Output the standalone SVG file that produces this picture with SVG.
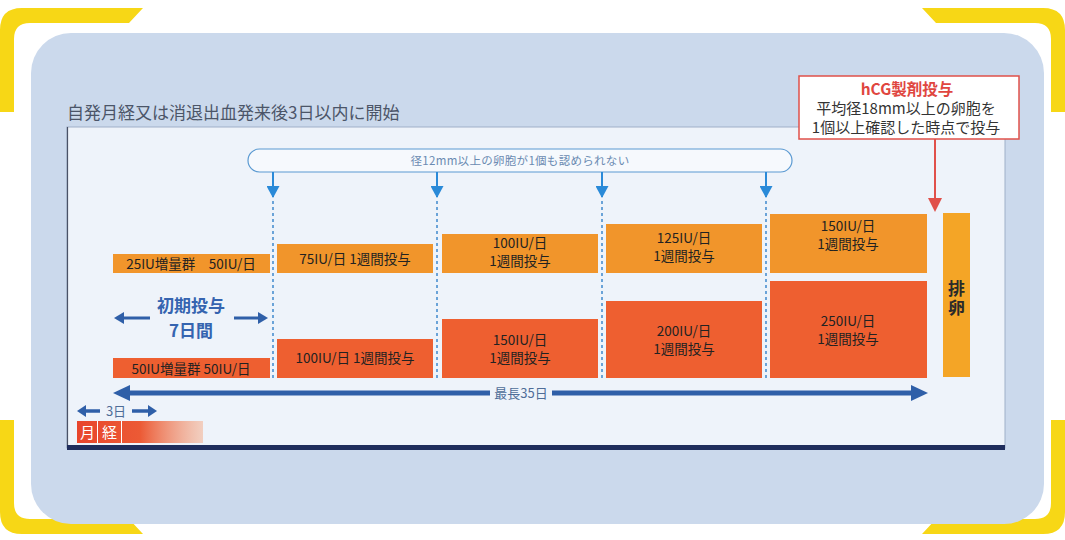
<svg xmlns="http://www.w3.org/2000/svg" width="1065" height="540" viewBox="0 0 1065 540">
<defs>
<style>
.t{font-family:"Noto Sans CJK JP","Noto Sans",sans-serif;}
.box{fill:#222;font-size:13.5px;text-anchor:middle;}
.o{fill:#f1952b;}
.r{fill:#ee5f30;}
.dash{stroke:#4a8fd0;stroke-width:1.6;stroke-dasharray:3 3;fill:none;}
.blue{stroke:#2a8ad8;stroke-width:2;fill:none;}
.navy{stroke:#2f5fa8;stroke-width:5;fill:none;}
</style>
<marker id="ad" markerWidth="13" markerHeight="13" refX="11" refY="6.5" orient="auto" markerUnits="userSpaceOnUse" viewBox="0 0 13 13">
<path d="M0,0 L12,6.5 L0,13 Z" fill="#2a8ad8"/>
</marker>
<linearGradient id="mg" x1="0" y1="0" x2="1" y2="0">
<stop offset="0" stop-color="#e8452c"/>
<stop offset="0.5" stop-color="#ec5a35"/>
<stop offset="1" stop-color="#f4b79a" stop-opacity="0.6"/>
</linearGradient>
</defs>
<rect width="1065" height="540" fill="#ffffff"/>
<!-- yellow brackets -->
<g fill="#f7d716">
<path d="M0 112 L0 30 Q0 8 22 8 L143 8 L129 23 L30 23 Q14 23 14 39 L14 112 Z"/>
<path d="M1065 112 L1065 30 Q1065 8 1043 8 L922 8 L936 23 L1035 23 Q1051 23 1051 39 L1051 112 Z"/>
<path d="M0 420 L0 512 Q0 534 22 534 L143 534 L129 519 L30 519 Q14 519 14 503 L14 420 Z"/>
<path d="M1065 420 L1065 512 Q1065 534 1043 534 L922 534 L936 519 L1035 519 Q1051 519 1051 503 L1051 420 Z"/>
</g>
<!-- light blue panel -->
<rect x="31" y="33" width="1013" height="491" rx="40" ry="40" fill="#cbd9ec"/>
<!-- inner panel -->
<rect x="67" y="127" width="938" height="321" fill="#eef3fa" stroke="#9fb0c8" stroke-width="1"/>
<line x1="67.5" y1="127" x2="67.5" y2="448" stroke="#4a5266" stroke-width="1.2"/>
<rect x="67" y="445" width="938" height="5" fill="#1f2d5c"/>
<text class="t" x="67" y="119" font-size="17" fill="#4b5568">自発月経又は消退出血発来後3日以内に開始</text>
<!-- hCG box -->
<g id="hcg">
<rect x="799" y="76" width="220" height="63" fill="#ffffff" stroke="#e0504a" stroke-width="1.5"/>
<text class="t" x="907" y="95" font-size="15.5" font-weight="bold" fill="#e0463f" text-anchor="middle">hCG製剤投与</text>
<text class="t" x="906" y="114" font-size="15" fill="#333" text-anchor="middle">平均径18mm以上の卵胞を</text>
<text class="t" x="906" y="133" font-size="15" fill="#333" text-anchor="middle">1個以上確認した時点で投与</text>
</g>
<!-- condition pill -->
<g id="cond">
<rect x="248" y="149" width="544" height="23" rx="11.5" fill="#f6f9fd" stroke="#5b9ad2" stroke-width="1.2"/>
<text class="t" x="520" y="165" font-size="11.5" fill="#6b8bb2" text-anchor="middle" letter-spacing="0.3">径12mm以上の卵胞が1個も認められない</text>
</g>
<!-- connectors -->
<g id="connectors">
<line class="blue" x1="273" y1="172" x2="273" y2="197" marker-end="url(#ad)"/>
<line class="blue" x1="437" y1="172" x2="437" y2="197" marker-end="url(#ad)"/>
<line class="blue" x1="602" y1="172" x2="602" y2="197" marker-end="url(#ad)"/>
<line class="blue" x1="766" y1="172" x2="766" y2="197" marker-end="url(#ad)"/>
<line class="dash" x1="273" y1="201" x2="273" y2="380"/>
<line class="dash" x1="437" y1="201" x2="437" y2="380"/>
<line class="dash" x1="602" y1="201" x2="602" y2="380"/>
<line class="dash" x1="766" y1="201" x2="766" y2="380"/>
<line x1="935" y1="139" x2="935" y2="200" stroke="#e0504a" stroke-width="2"/>
<path d="M928 198 L942 198 L935 212 Z" fill="#e0504a"/>
<!-- max 35 days -->
<line class="navy" x1="126" y1="393" x2="914" y2="393"/>
<path d="M113 393 L130 385 L130 401 Z" fill="#2f5fa8"/>
<path d="M928 393 L911 385 L911 401 Z" fill="#2f5fa8"/>
<!-- initial 7 days arrows -->
<line x1="122" y1="318" x2="150" y2="318" stroke="#2f5fa8" stroke-width="3"/>
<path d="M114 318 L124 312 L124 324 Z" fill="#2f5fa8"/>
<line x1="234" y1="318" x2="260" y2="318" stroke="#2f5fa8" stroke-width="3"/>
<path d="M268 318 L258 312 L258 324 Z" fill="#2f5fa8"/>
<!-- 3 days arrows -->
<line x1="84" y1="411" x2="100" y2="411" stroke="#2f5fa8" stroke-width="3.5"/>
<path d="M77 411 L86 405 L86 417 Z" fill="#2f5fa8"/>
<line x1="132" y1="411" x2="150" y2="411" stroke="#2f5fa8" stroke-width="3.5"/>
<path d="M157 411 L148 405 L148 417 Z" fill="#2f5fa8"/>
</g>
<rect x="490" y="385" width="62" height="16" fill="#eef3fa"/>
<text class="t" x="521" y="398" font-size="13" fill="#4f6d98" text-anchor="middle">最長35日</text>
<text class="t" x="116" y="416" font-size="13" fill="#4f6d98" text-anchor="middle">3日</text>
<g id="init">
<text class="t" x="191" y="312" font-size="17" font-weight="bold" fill="#3564b0" text-anchor="middle">初期投与</text>
<text class="t" x="191" y="337" font-size="17" font-weight="bold" fill="#3564b0" text-anchor="middle">7日間</text>
</g>
<!-- top row -->
<g id="n25">
<rect class="o" x="113" y="254" width="157" height="19"/>
<text class="t box" x="191" y="269">25IU増量群　50IU/日</text>
</g>
<g id="n75">
<rect class="o" x="277" y="244" width="156" height="29"/>
<text class="t box" x="355" y="264">75IU/日 1週間投与</text>
</g>
<g id="n100">
<rect class="o" x="442" y="234" width="156" height="39"/>
<text class="t box" x="520" y="248">100IU/日</text>
<text class="t box" x="520" y="266">1週間投与</text>
</g>
<g id="n125">
<rect class="o" x="606" y="224" width="156" height="49"/>
<text class="t box" x="684" y="243">125IU/日</text>
<text class="t box" x="684" y="261">1週間投与</text>
</g>
<g id="n150a">
<rect class="o" x="770" y="214" width="157" height="59"/>
<text class="t box" x="848" y="231">150IU/日</text>
<text class="t box" x="848" y="249">1週間投与</text>
</g>
<!-- bottom row -->
<g id="n50">
<rect class="r" x="113" y="358" width="157" height="20"/>
<text class="t box" x="191" y="374">50IU増量群 50IU/日</text>
</g>
<g id="n100b">
<rect class="r" x="277" y="339" width="156" height="39"/>
<text class="t box" x="355" y="363">100IU/日 1週間投与</text>
</g>
<g id="n150b">
<rect class="r" x="442" y="319" width="156" height="59"/>
<text class="t box" x="520" y="345">150IU/日</text>
<text class="t box" x="520" y="363">1週間投与</text>
</g>
<g id="n200">
<rect class="r" x="606" y="301" width="156" height="77"/>
<text class="t box" x="684" y="336">200IU/日</text>
<text class="t box" x="684" y="354">1週間投与</text>
</g>
<g id="n250">
<rect class="r" x="770" y="281" width="157" height="97"/>
<text class="t box" x="848" y="326">250IU/日</text>
<text class="t box" x="848" y="344">1週間投与</text>
</g>
<g id="ovul">
<rect x="943" y="213" width="27" height="164" fill="#f4a526"/>
<text class="t" x="956.5" y="280" font-size="17" font-weight="bold" fill="#2a2a2a" writing-mode="vertical-rl" letter-spacing="2">排卵</text>
</g>
<g id="mens">
<rect x="77" y="421" width="126" height="22" fill="url(#mg)"/>
<line x1="97.5" y1="421" x2="97.5" y2="443" stroke="#ffffff" stroke-width="1"/>
<line x1="121.5" y1="421" x2="121.5" y2="443" stroke="#ffffff" stroke-width="1"/>
<text class="t" x="87.5" y="438" font-size="15" fill="#ffffff" text-anchor="middle">月</text>
<text class="t" x="109.5" y="438" font-size="15" fill="#ffffff" text-anchor="middle">経</text>
</g>
</svg>
